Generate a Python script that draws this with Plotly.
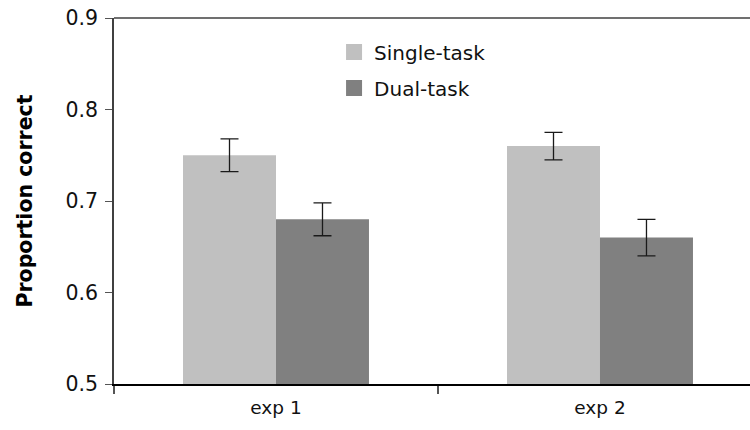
import plotly.graph_objects as go

categories = ["exp 1", "exp 2"]
single_task = [0.75, 0.76]
single_err = [0.018, 0.015]
dual_task = [0.68, 0.66]
dual_err = [0.018, 0.02]
y_ticks = [0.5, 0.6, 0.7, 0.8, 0.9]
series_names = ["Single-task", "Dual-task"]
series_colors = ["#C0C0C0", "#808080"]

FONT = "DejaVu Sans, Verdana, sans-serif"

fig = go.Figure()
for name, vals, errs, col in [(series_names[0], single_task, single_err, series_colors[0]),
                              (series_names[1], dual_task, dual_err, series_colors[1])]:
    fig.add_trace(go.Bar(
        name=name, x=categories, y=vals, showlegend=False,
        marker=dict(color=col, line=dict(width=0)),
        error_y=dict(type="data", array=errs, visible=True,
                     color="#1a1a1a", thickness=1.3, width=9),
    ))

# legend entries with larger square swatches
for i, (name, col) in enumerate(zip(series_names, series_colors)):
    fig.add_trace(go.Scatter(
        x=[None], y=[None], mode="markers", name=name,
        marker=dict(symbol="square", size=16, color=col),
        legend="legend" if i == 0 else "legend2",
    ))

leg_common = dict(xanchor="left", yanchor="middle", bgcolor="rgba(0,0,0,0)",
                  font=dict(size=20, color="#111111"), itemwidth=30,
                  borderwidth=0)

fig.update_layout(
    width=750, height=430,
    margin=dict(l=114, r=0, t=18, b=46),
    paper_bgcolor="white", plot_bgcolor="white",
    barmode="group", bargap=0.426, bargroupgap=0,
    font=dict(family=FONT, size=17, color="#111111"),
    legend=dict(x=0.346, y=0.907, **leg_common),
    legend2=dict(x=0.346, y=0.809, **leg_common),
    showlegend=True,
)
fig.update_xaxes(
    type="category", range=[-0.5, 1.463],
    showline=True, linecolor="#000000", linewidth=2,
    ticks="outside", tickson="boundaries", ticklen=8,
    tickcolor="#555555", tickwidth=1.5,
    showgrid=False, zeroline=False,
    tickfont=dict(size=18.5), ticklabelstandoff=6,
)
fig.update_yaxes(
    range=[0.5, 0.9], tickvals=y_ticks, tickformat=".1f",
    showline=True, linecolor="#404040", linewidth=1.5,
    ticks="outside", ticklen=7, tickcolor="#555555", tickwidth=1,
    showgrid=False, zeroline=False,
    tickfont=dict(size=20.5), ticklabelstandoff=3,
    title=dict(text="<b>Proportion correct</b>", font=dict(size=20.5, color="#000000"), standoff=27),
)
fig.add_shape(type="line", xref="paper", yref="paper", x0=0, x1=1, y0=1, y1=1,
              line=dict(color="#404040", width=1.5))

fig.write_html("out.html")
